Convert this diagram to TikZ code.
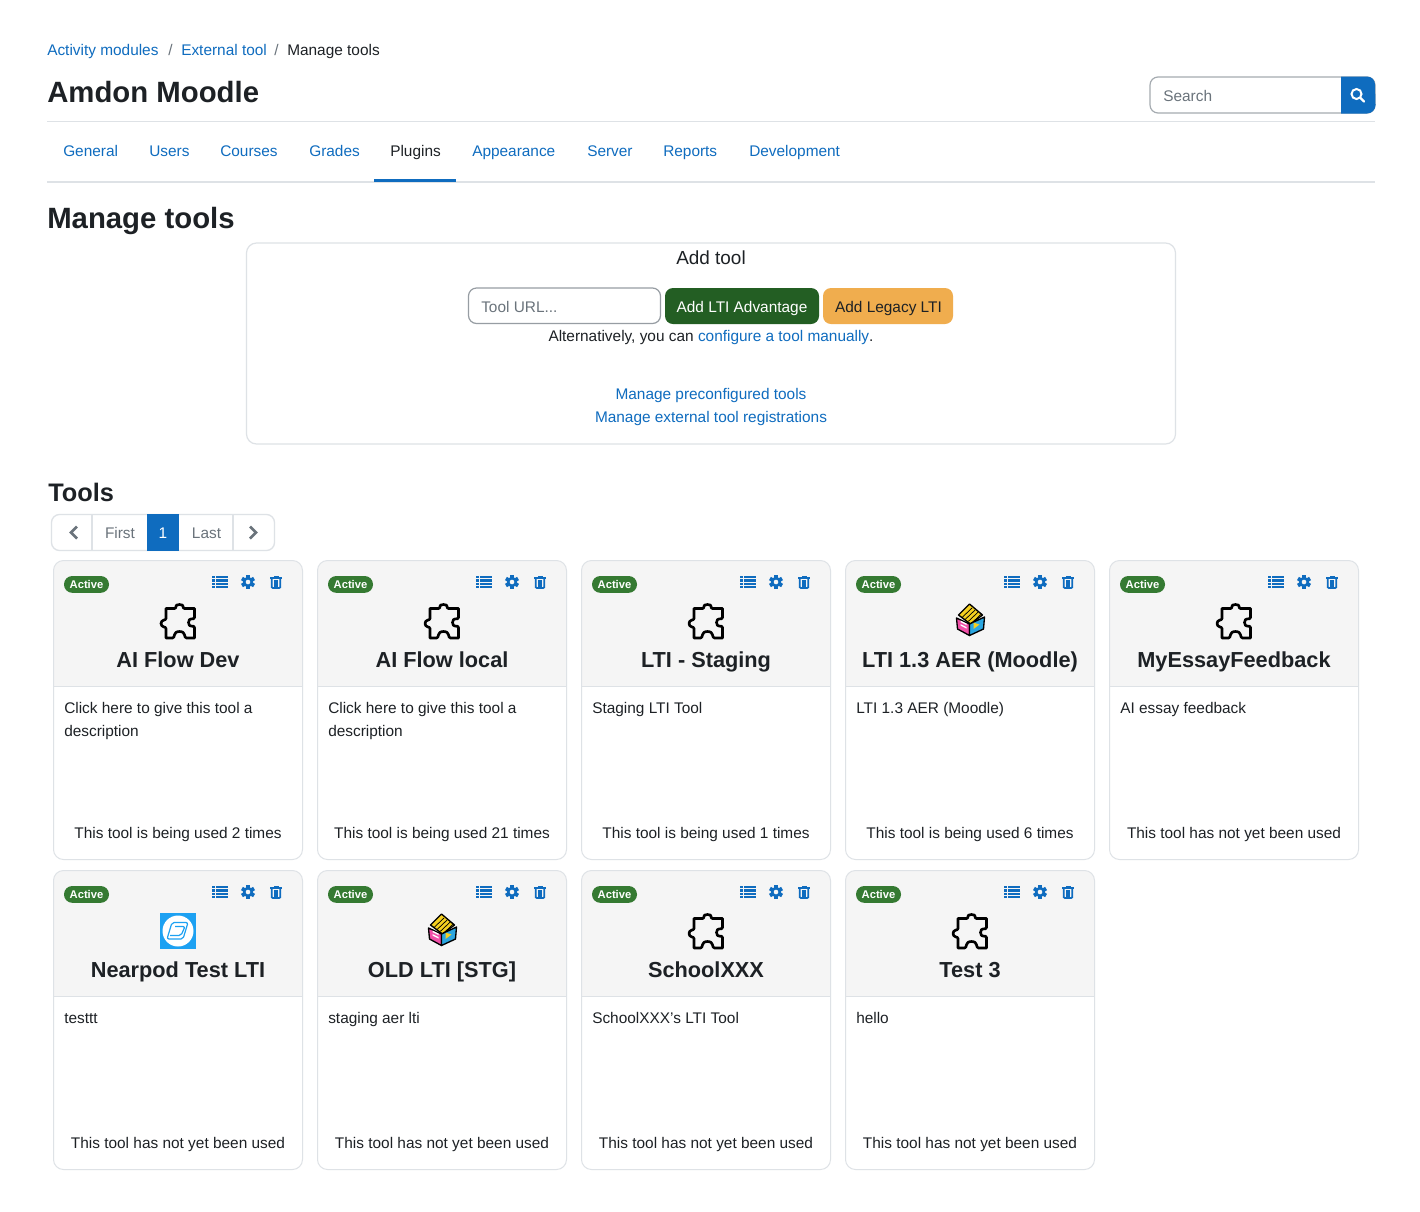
\documentclass[tikz,border=0pt]{standalone}
\usepackage{fontspec}
\setmainfont{Liberation Sans}
\definecolor{lnk}{HTML}{0F6CBF}
\definecolor{ink}{HTML}{1D2125}
\definecolor{rule}{HTML}{DEE2E6}
\definecolor{muted}{HTML}{6A737B}
\definecolor{head}{HTML}{F5F5F5}
\definecolor{badge}{HTML}{357A32}
\definecolor{dgreen}{HTML}{235E23}
\definecolor{orng}{HTML}{F0AD4E}
\definecolor{npod}{HTML}{1DA1F2}
\definecolor{pinkf}{HTML}{F24FA8}
\definecolor{bluef}{HTML}{2BA6E0}
\definecolor{yell}{HTML}{F5D020}
\newcommand{\fs}[1]{\fontsize{#1}{#1}\selectfont}
\tikzset{
  x=0.75pt,y=-0.75pt,
  txt/.style={inner sep=0pt,anchor=base west,text=ink,font=\fs{11.55pt}},
  ctr/.style={txt,anchor=base},
  link/.style={txt,text=lnk},
  linkc/.style={ctr,text=lnk},
  h1/.style={txt,font=\fs{22pt}\bfseries},
  cardtitle/.style={ctr,font=\fs{16.3pt}\bfseries},
  badgetxt/.style={ctr,text=white,font=\fs{8.4pt}\bfseries},
  cardbox/.style={draw=rule,line width=0.75pt,rounded corners=7.5pt},
}
\newcommand{\listicon}[2]{\begin{scope}[shift={(#1,#2)}]
 \foreach \r in {-5,-1.7,1.7,5}{\fill[lnk] (-8,\r-1.2) rectangle (-5.2,\r+1.2);\fill[lnk] (-4.4,\r-1.2) rectangle (8,\r+1.2);}
\end{scope}}
\newcommand{\gearicon}[2]{\begin{scope}[shift={(#1,#2)}]
 \fill[lnk] (0,0) circle (5.2);
 \foreach \a in {0,60,...,300}{\fill[lnk,rotate=\a] (-1.9,-7) rectangle (1.9,-3);}
 \fill[head] (0,0) circle (2.3);
\end{scope}}
\newcommand{\trashicon}[2]{\begin{scope}[shift={(#1,#2)}]
 \fill[lnk] (-6,-5) rectangle (6,-3.4);
 \fill[lnk] (-2.5,-6.5) rectangle (2.5,-4.5);
 \draw[lnk,line width=1.3pt] (-4.3,-3.4) -- (-4.3,5.2) -- (-3.2,6) -- (3.2,6) -- (4.3,5.2) -- (4.3,-3.4);
 \foreach \v in {-1.6,0,1.6}{\fill[lnk] (\v-.55,-2) rectangle (\v+.55,4.5);}
\end{scope}}
\newcommand{\puzzleicon}[2]{\begin{scope}[shift={(#1+1,#2+.5)}]
 \draw[black,line width=2pt,line join=round,fill=none]
  (-13.5,-14) -- (-5,-14) .. controls (-2,-14) and (-6,-18) .. (0,-18) .. controls (6,-18) and (2,-14) .. (5,-14)
  -- (15,-14) -- (15,-5) .. controls (15,-2) and (9,-6) .. (9,0) .. controls (9,6) and (15,2) .. (15,5)
  -- (15,15.5) -- (7,15.5) .. controls (4,15.5) and (7,9) .. (0,9) .. controls (-7,9) and (-4,15.5) .. (-7,15.5)
  -- (-13.5,15.5) -- (-13.5,6) .. controls (-13.5,4) and (-18.5,5) .. (-18.5,1) .. controls (-18.5,-3) and (-13.5,-2) .. (-13.5,-4) -- cycle;
\end{scope}}
\newcommand{\boxicon}[2]{\begin{scope}[shift={(#1,#2)},line join=round]
 \draw[black,line width=1pt,fill=yell] (-12,-6) -- (-1,-17) -- (12,-6) -- (0,3) -- cycle;
 \foreach \t in {0,1,2,3}{\draw[black,line width=.55pt] (-8.5+\t*3.2,-3.5+\t*1.9) -- ++(10,-9.5);}
 \draw[black,line width=1pt,fill=pinkf] (-14,-3) -- (-1,3) -- (-1,14.5) -- (-13,8) -- cycle;
 \draw[black,line width=1pt,fill=bluef] (14,-4) -- (-1,3) -- (-1,14.5) -- (13,8) -- cycle;
 \fill[white] (-10,-.5) -- (-4,2.5) -- (-4,4) -- (-10,1) -- cycle (-10,3) -- (-4,6) -- (-4,7.5) -- (-10,4.5) -- cycle;
 \fill[yell] (3,1.5) -- (9,3.5) -- (3,8) -- cycle;
\end{scope}}
\newcommand{\npodicon}[2]{\begin{scope}[shift={(#1,#2)}]
 \fill[npod] (-18,-18) rectangle (18,18);
 \fill[white] (0,0) circle (15.5);
 \draw[npod,line width=.9pt,line join=round,rounded corners=1.5pt] (-6,-8.5) -- (10,-8.5) -- (5,8) -- (-11,8) -- cycle;
 \draw[npod,line width=.9pt,line join=round,rounded corners=1.5pt] (-3,-4.5) -- (7,-4.5) -- (3,4.5) -- (-8,4.5);
\end{scope}}
\newcommand{\toolcard}[7]{% id, x, y, title, icon, desc, usage
 \fill[head,rounded corners=7.5pt] (#2,#3) -- (#2+249,#3) -- (#2+249,#3+60) -- (#2,#3+60) -- cycle;
 \fill[head] (#2,#3+20) rectangle (#2+249,#3+126);
 \draw[cardbox] (#2,#3) rectangle (#2+249,#3+299);
 \draw[rule,line width=0.75pt] (#2,#3+126) -- (#2+249,#3+126);
 \fill[badge,rounded corners=6.2pt] (#2+10.5,#3+15.5) rectangle (#2+55.5,#3+32.3);
 \node[badgetxt] (#1b) at (#2+33,#3+27.5) {Active};
 \listicon{#2+166.5}{#3+21.5}
 \gearicon{#2+194.5}{#3+21.5}
 \trashicon{#2+222.5}{#3+21.5}
 #5
 \node[cardtitle] (#1t) at (#2+124.5,#3+107) {#4};
 #6
 \node[ctr] (#1u) at (#2+124.5,#3+278) {#7};
}
\begin{document}
\begin{tikzpicture}
\useasboundingbox (0,0) rectangle (1420,1211);
\fill[white] (0,0) rectangle (1420,1211);
% breadcrumb
\node[link] (bc1) at (47,55) {Activity modules};
\node[txt,text=muted] (bcs1) at (168,55) {/};
\node[link] (bc2) at (181,55) {External tool};
\node[txt,text=muted] (bcs2) at (274,55) {/};
\node[txt] (bc3) at (287,55) {Manage tools};
\node[h1] (site) at (47,102) {Amdon Moodle};
% search
\draw[muted!60,line width=0.9pt,fill=white,rounded corners=6pt] (1150,77) rectangle (1375,113);
\fill[lnk] (1341,76.5) -- (1367,76.5) arc[start angle=-90,end angle=0,radius=8] -- (1375.5,105) arc[start angle=0,end angle=90,radius=8.5] -- (1341,113.5) -- cycle;
\node[txt,text=muted] (search) at (1163,101) {Search};
\draw[white,line width=1.5pt] (1356.5,94) circle (5);
\draw[white,line width=1.8pt,line cap=round] (1360.5,98) -- (1364,101.5);
\draw[rule,line width=1pt] (47,121.5) -- (1375,121.5);
% nav
\foreach \n/\xx/\lab in {g/63/General,u/149/Users,c/220/Courses,gr/309/Grades,a/472/Appearance,s/587/Server,r/663/Reports,d/749/Development}{
  \node[link] (nav\n) at (\xx,156) {\lab};}
\node[txt] (navp) at (390,156) {Plugins};
\draw[rule,line width=1pt] (47,182) -- (1375,182);
\fill[lnk] (374,179) rectangle (456,182);
\node[h1] (mt) at (47,228) {Manage tools};
% add tool box
\draw[cardbox,line width=.9pt] (246.5,243) rectangle (1175.5,444);
\node[ctr,font=\fs{14.2pt}] (addt) at (711,264) {Add tool};
\draw[muted!70,line width=.9pt,rounded corners=6pt] (468.5,288) rectangle (660.5,323.5);
\node[txt,text=muted] (url) at (481,312) {Tool URL...};
\fill[dgreen,rounded corners=6pt] (665,288) rectangle (819,324);
\node[ctr,text=white] (lti) at (742,312) {Add LTI Advantage};
\fill[orng,rounded corners=6pt] (823,288) rectangle (953,324);
\node[ctr] (leg) at (888.5,312) {Add Legacy LTI};
\node[ctr] (alt) at (711,341) {Alternatively, you can \textcolor{lnk}{configure a tool manually}.};
\node[linkc] (pre) at (711,399) {Manage preconfigured tools};
\node[linkc] (reg) at (711,422) {Manage external tool registrations};
% tools
\node[txt,font=\fs{19pt}\bfseries] (tools) at (48,501) {Tools};
\draw[rule,line width=1pt,rounded corners=6pt] (51.5,514.5) rectangle (274.5,550.5);
\fill[lnk] (147,514) rectangle (179,551);
\draw[rule,line width=.9pt] (92,514.5) -- (92,550.5) (233,514.5) -- (233,550.5);
\draw[muted,line width=2.1pt] (77,526.5) -- (71,532.5) -- (77,538.5);
\draw[muted,line width=2.1pt] (250,526.5) -- (256,532.5) -- (250,538.5);
\node[ctr,text=muted] (first) at (120,538) {First};
\node[ctr,text=white] (one) at (163,538) {1};
\node[ctr,text=muted] (last) at (206.5,538) {Last};
% cards
\toolcard{c1}{53.5}{560.5}{AI Flow Dev}{\puzzleicon{178.5}{622}}{\node[txt] (c1da) at (64,713) {Click here to give this tool a};\node[txt] (c1db) at (64,736) {description};}{This tool is being used 2 times}
\toolcard{c2}{317.5}{560.5}{AI Flow local}{\puzzleicon{442.5}{622}}{\node[txt] (c2da) at (328,713) {Click here to give this tool a};\node[txt] (c2db) at (328,736) {description};}{This tool is being used 21 times}
\toolcard{c3}{581.5}{560.5}{LTI - Staging}{\puzzleicon{706.5}{622}}{\node[txt] (c3da) at (592,713) {Staging LTI Tool};}{This tool is being used 1 times}
\toolcard{c4}{845.5}{560.5}{LTI 1.3 AER (Moodle)}{\boxicon{970.5}{621}}{\node[txt] (c4da) at (856,713) {LTI 1.3 AER (Moodle)};}{This tool is being used 6 times}
\toolcard{c5}{1109.5}{560.5}{MyEssayFeedback}{\puzzleicon{1234.5}{622}}{\node[txt] (c5da) at (1120,713) {AI essay feedback};}{This tool has not yet been used}
\toolcard{c6}{53.5}{870.5}{Nearpod Test LTI}{\npodicon{178}{931}}{\node[txt] (c6da) at (64,1023) {testtt};}{This tool has not yet been used}
\toolcard{c7}{317.5}{870.5}{OLD LTI [STG]}{\boxicon{442.5}{931}}{\node[txt] (c7da) at (328,1023) {staging aer lti};}{This tool has not yet been used}
\toolcard{c8}{581.5}{870.5}{SchoolXXX}{\puzzleicon{706.5}{932}}{\node[txt] (c8da) at (592,1023) {SchoolXXX's LTI Tool};}{This tool has not yet been used}
\toolcard{c9}{845.5}{870.5}{Test 3}{\puzzleicon{970.5}{932}}{\node[txt] (c9da) at (856,1023) {hello};}{This tool has not yet been used}
\end{tikzpicture}
\end{document}
